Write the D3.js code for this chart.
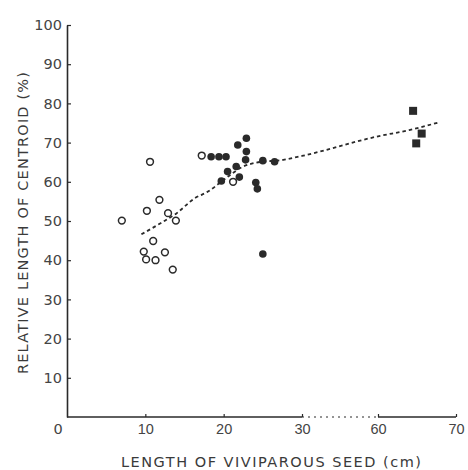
<!DOCTYPE html>
<html lang="en">
  <head>
    <meta charset="UTF-8" />
    <title>Relative length of centroid vs viviparous seed length</title>
    <script src="https://d3js.org/d3.v7.min.js"></script>
    <style>
      body {
        margin: 0;
        background: #fff;
      }
      svg {
        display: block;
        font-family: "DejaVu Sans", sans-serif;
      }
      .tick text {
        font-size: 14.5px;
        fill: #444;
      }
      .axis-title {
        font-size: 14.5px;
        fill: #3a3a3a;
      }
    </style>
  </head>
  <body>
    <svg id="chart" width="468" height="470"></svg>
    <script>
      // open circles
      const openX = [10.6, 7.0, 10.2, 11.8, 12.9, 13.9, 11.0, 9.8, 10.1, 11.3, 12.5, 13.5, 17.2, 21.2];
      const openY = [65.1, 50.1, 52.6, 55.4, 52.0, 50.1, 44.9, 42.2, 40.2, 40.0, 42.0, 37.6, 66.7, 60.0];
      // filled circles
      const filledX = [18.4, 19.4, 20.3, 21.8, 22.9, 22.9, 22.8, 20.5, 21.6, 19.7, 22.0, 24.1, 24.3, 25.0, 26.5, 25.0];
      const filledY = [66.4, 66.4, 66.4, 69.4, 71.1, 67.7, 65.6, 62.6, 63.9, 60.2, 61.2, 59.8, 58.2, 65.4, 65.1, 41.6];
      // filled squares
      const squareX = [64.5, 65.6, 64.9];
      const squareY = [78.1, 72.3, 69.8];
      // fitted curve
      const trendX = [9.5, 12, 14, 16.3, 18, 20, 22.5, 24.2, 27.6, 30, 60, 64, 67.7];
      const trendY = [46.6, 49.5, 52, 55.8, 57.5, 60.5, 63.9, 64.9, 65.6, 66.6, 71.6, 73.2, 75.1];

      const xTicks = [10, 20, 30, 60, 70];
      const yTicks = [10, 20, 30, 40, 50, 60, 70, 80, 90, 100];

      const svg = d3.select("#chart");
      const ink = "#2a2a2a";

      // broken x axis: 30..60 squeezed into the gap
      const x = d3.scaleLinear().domain([0, 30, 60, 70]).range([67, 302, 378, 456]);
      const y = d3.scaleLinear().domain([0, 100]).range([417, 25]);
      const y0 = y(0);

      // y axis
      const yAxis = svg
        .append("g")
        .attr("transform", `translate(${x(0)},0)`)
        .call(d3.axisLeft(y).tickValues(yTicks).tickSizeInner(-4).tickSizeOuter(0).tickPadding(5));
      yAxis.select(".domain").attr("stroke", ink).attr("stroke-width", 1.6);
      yAxis.selectAll(".tick line").attr("stroke", ink).attr("stroke-width", 1.2);
      yAxis.selectAll(".tick text").attr("font-family", "DejaVu Sans");

      // x axis
      const xAxis = svg
        .append("g")
        .attr("transform", `translate(0,${y0})`)
        .call(d3.axisBottom(x).tickValues(xTicks).tickSizeInner(-3).tickSizeOuter(0).tickPadding(7));
      xAxis.select(".domain").remove();
      xAxis.selectAll(".tick line").attr("stroke", ink).attr("stroke-width", 1.2);

      const seg = (a, b, dash) =>
        svg
          .append("line")
          .attr("x1", x(a))
          .attr("x2", x(b))
          .attr("y1", y0)
          .attr("y2", y0)
          .attr("stroke", ink)
          .attr("stroke-width", dash ? 1.2 : 1.6)
          .attr("stroke-dasharray", dash ? "2,4" : null);
      seg(0, 30, false);
      seg(30, 60, true);
      seg(60, 70, false);

      svg
        .append("text")
        .attr("x", x(0) - 9)
        .attr("y", y0 + 7)
        .attr("dy", "0.71em")
        .attr("text-anchor", "middle")
        .style("font-size", "14.5px")
        .style("fill", "#444")
        .text("0");

      // titles
      svg
        .append("text")
        .attr("class", "axis-title")
        .attr("x", 271)
        .attr("y", 467)
        .attr("text-anchor", "middle")
        .attr("textLength", 300)
        .text("LENGTH OF VIVIPAROUS SEED (cm)");

      svg
        .append("text")
        .attr("class", "axis-title")
        .attr("transform", "translate(28,223) rotate(-90)")
        .attr("text-anchor", "middle")
        .attr("textLength", 302)
        .text("RELATIVE LENGTH OF CENTROID (%)");

      // dashed fit
      const trend = trendX.map((v, i) => [v, trendY[i]]);
      svg
        .append("path")
        .datum(trend)
        .attr("fill", "none")
        .attr("stroke", ink)
        .attr("stroke-width", 1.8)
        .attr("stroke-dasharray", "3.5,3")
        .attr("d", d3.line().curve(d3.curveMonotoneX).x((d) => x(d[0])).y((d) => y(d[1])));

      // points
      svg
        .append("g")
        .selectAll("circle")
        .data(openX.map((v, i) => [v, openY[i]]))
        .join("circle")
        .attr("cx", (d) => x(d[0]))
        .attr("cy", (d) => y(d[1]))
        .attr("r", 3.4)
        .attr("fill", "#fff")
        .attr("stroke", ink)
        .attr("stroke-width", 1.5);

      svg
        .append("g")
        .selectAll("circle")
        .data(filledX.map((v, i) => [v, filledY[i]]))
        .join("circle")
        .attr("cx", (d) => x(d[0]))
        .attr("cy", (d) => y(d[1]))
        .attr("r", 3.8)
        .attr("fill", ink);

      svg
        .append("g")
        .selectAll("rect")
        .data(squareX.map((v, i) => [v, squareY[i]]))
        .join("rect")
        .attr("x", (d) => x(d[0]) - 4)
        .attr("y", (d) => y(d[1]) - 4)
        .attr("width", 8)
        .attr("height", 8)
        .attr("fill", ink);
    </script>
  </body>
</html>
